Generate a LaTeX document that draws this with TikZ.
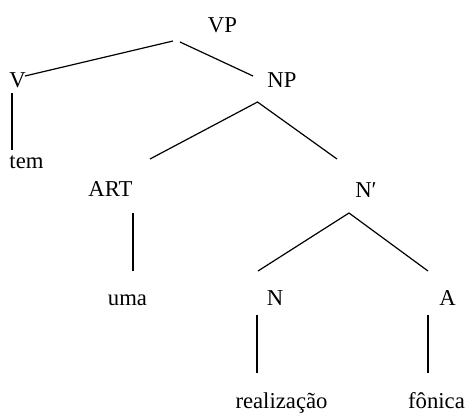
\documentclass[tikz,border=0pt]{standalone}
\usepackage{fontspec}
\setmainfont{Liberation Serif}
\begin{document}
\begin{tikzpicture}[x=1pt,y=-1pt,
  lbl/.style={anchor=base,inner sep=0pt,font=\fontsize{22.7}{22.7}\selectfont},
  edge/.style={line width=1.2pt},
  vedge/.style={line width=1.6pt}]
\useasboundingbox (0,0) rectangle (466,416);
% labels
\node[lbl] (VP) at (222.5,32) {VP};
\node[lbl] (V) at (17.5,87) {V};
\node[lbl] (NP) at (282,87) {NP};
\node[lbl] (tem) at (26.5,168) {tem};
\node[lbl] (ART) at (110.5,196) {ART};
\node[lbl] (Nb) at (366,197) {N′};
\node[lbl] (uma) at (127.5,305) {uma};
\node[lbl] (N) at (275,305) {N};
\node[lbl] (A) at (447.5,305) {A};
\node[lbl] (real) at (281.5,408) {realização};
\node[lbl] (fon) at (436.5,408) {fônica};
% connector ends
\coordinate (vpL) at (173,41);
\coordinate (vpR) at (180,42);
\coordinate (vR) at (25,76);
\coordinate (npL) at (253,76);
\coordinate (vB) at (12,93);
\coordinate (temT) at (12,150);
\coordinate (npB) at (257.5,102);
\coordinate (artT) at (150,159);
\coordinate (nbT) at (337,159);
\coordinate (artB) at (133,213);
\coordinate (umaT) at (133,271);
\coordinate (nbB) at (349,213);
\coordinate (nT) at (258,271);
\coordinate (aT) at (428,271);
\coordinate (nB) at (257,315);
\coordinate (realT) at (257,373);
\coordinate (aB) at (428,315);
\coordinate (fonT) at (428,373);
% connectors
\draw[edge] (vpL) -- (vR);
\draw[edge] (vpR) -- (npL);
\draw[vedge] (vB) -- (temT);
\draw[edge] (artT) -- (npB) -- (nbT);
\draw[vedge] (artB) -- (umaT);
\draw[edge] (nT) -- (nbB) -- (aT);
\draw[vedge] (nB) -- (realT);
\draw[vedge] (aB) -- (fonT);
\end{tikzpicture}
\end{document}
